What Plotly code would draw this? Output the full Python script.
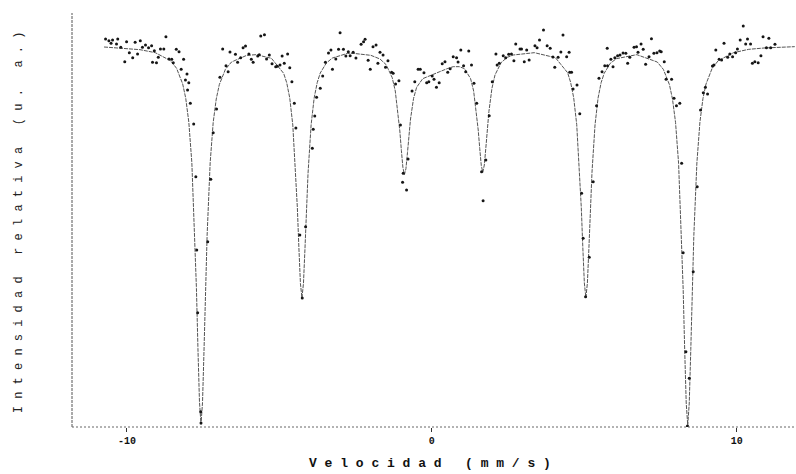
import plotly.graph_objects as go

# Measured spectrum: source velocity (mm/s) and relative intensity (%)
vel_obs = [
    -10.70, -10.59, -10.52, -10.47, -10.34, -10.30, -10.20, -10.07, -10.01, -9.92,
    -9.81, -9.73, -9.65, -9.56, -9.49, -9.39, -9.29, -9.19, -9.16, -9.10,
    -9.03, -8.97, -8.90, -8.79, -8.72, -8.62, -8.53, -8.48, -8.38, -8.29,
    -8.22, -8.14, -8.08, -8.03, -8.01, -7.97, -7.92, -7.81, -7.74, -7.71,
    -7.68, -7.58, -7.57, -7.35, -7.25, -7.17, -7.06, -6.95, -6.86, -6.75,
    -6.68, -6.62, -6.44, -6.37, -6.27, -6.19, -6.11, -6.00, -5.92, -5.86,
    -5.71, -5.66, -5.61, -5.49, -5.42, -5.33, -5.24, -5.12, -5.07, -4.98,
    -4.91, -4.84, -4.73, -4.66, -4.59, -4.51, -4.46, -4.33, -4.25, -4.14,
    -3.92, -3.89, -3.84, -3.78, -3.66, -3.58, -3.49, -3.39, -3.31, -3.26,
    -3.15, -3.06, -3.01, -2.90, -2.82, -2.74, -2.68, -2.58, -2.49, -2.32,
    -2.24, -2.19, -2.09, -2.02, -1.93, -1.83, -1.77, -1.70, -1.60, -1.52,
    -1.44, -1.32, -1.27, -1.19, -1.08, -1.03, -0.94, -0.96, -0.83, -0.78,
    -0.65, -0.56, -0.45, -0.38, -0.26, -0.17, -0.10, 0.01, 0.07, 0.15,
    0.24, 0.34, 0.43, 0.52, 0.60, 0.70, 0.81, 0.86, 0.95, 1.04,
    1.11, 1.21, 1.30, 1.38, 1.47, 1.63, 1.68, 1.77, 1.88, 1.98,
    2.10, 2.14, 2.21, 2.34, 2.42, 2.52, 2.61, 2.69, 2.75, 2.89,
    2.94, 3.03, 3.11, 3.19, 3.38, 3.45, 3.53, 3.66, 3.78, 3.88,
    3.97, 4.03, 4.14, 4.23, 4.30, 4.42, 4.50, 4.52, 4.58, 4.63,
    4.76, 4.85, 4.91, 4.96, 5.04, 5.16, 5.29, 5.40, 5.48, 5.58,
    5.67, 5.76, 5.75, 5.87, 5.94, 6.00, 6.09, 6.17, 6.27, 6.36,
    6.42, 6.49, 6.63, 6.71, 6.76, 6.86, 6.93, 7.01, 7.12, 7.20,
    7.28, 7.38, 7.47, 7.52, 7.62, 7.68, 7.75, 7.86, 7.94, 8.02,
    8.13, 8.19, 8.24, 8.33, 8.38, 8.44, 8.57, 8.70, 8.81, 8.90,
    8.97, 9.04, 9.20, 9.25, 9.31, 9.42, 9.50, 9.58, 9.70, 9.77,
    9.86, 9.96, 10.02, 10.11, 10.21, 10.29, 10.35, 10.45, 10.51, 10.59,
    10.70, 10.79, 10.86, 10.97, 11.05, 11.11, 11.25,
]
int_obs = [
    100.18, 100.13, 100.05, 100.15, 100.03, 100.18, 99.93, 99.50, 100.10, 99.77,
    99.62, 100.08, 99.73, 100.13, 99.93, 100.00, 99.92, 99.98, 99.48, 99.83,
    99.47, 99.63, 99.88, 99.88, 100.25, 99.58, 99.57, 99.47, 99.87, 99.80,
    99.27, 99.57, 98.95, 99.13, 98.65, 98.87, 98.25, 97.63, 96.05, 93.85,
    91.97, 89.00, 88.66, 94.10, 95.97, 97.37, 98.08, 99.03, 99.88, 99.38,
    99.20, 99.79, 99.72, 99.48, 99.62, 99.92, 99.97, 99.73, 99.57, 99.48,
    99.67, 99.71, 100.27, 100.31, 99.58, 99.70, 99.44, 99.35, 99.36, 99.40,
    99.67, 99.45, 99.73, 99.32, 98.90, 98.25, 97.51, 94.30, 92.41, 94.55,
    96.90, 97.47, 97.87, 98.43, 98.70, 99.07, 99.48, 99.76, 99.85, 99.27,
    99.58, 99.87, 100.37, 99.87, 99.67, 99.80, 99.68, 99.78, 99.61, 100.02,
    100.10, 100.17, 99.54, 99.27, 99.95, 100.00, 99.45, 99.78, 99.70, 99.33,
    99.53, 99.18, 99.15, 98.83, 98.93, 97.60, 96.15, 95.88, 95.65, 96.58,
    98.62, 98.90, 99.27, 99.27, 99.17, 98.87, 98.90, 99.07, 98.97, 98.73,
    98.87, 99.44, 99.50, 99.18, 99.29, 99.65, 99.62, 99.49, 99.85, 99.38,
    99.20, 99.82, 99.40, 98.85, 98.25, 96.20, 95.33, 96.55, 97.88, 98.90,
    99.73, 99.40, 99.45, 99.68, 99.62, 99.72, 99.73, 99.53, 100.03, 99.88,
    99.88, 99.50, 99.85, 99.55, 99.98, 99.92, 100.15, 100.45, 99.98, 99.90,
    99.64, 99.33, 99.63, 99.79, 100.30, 99.65, 99.78, 99.18, 99.18, 98.68,
    98.80, 97.94, 95.55, 94.20, 92.45, 93.63, 95.90, 98.18, 99.00, 99.20,
    99.38, 99.38, 99.90, 99.57, 99.35, 99.62, 99.68, 99.70, 99.76, 99.75,
    99.45, 99.63, 99.93, 99.95, 99.78, 100.03, 99.87, 99.42, 99.65, 100.19,
    99.75, 99.77, 99.82, 99.80, 99.50, 98.97, 99.20, 98.97, 98.40, 98.18,
    98.25, 96.45, 93.77, 90.80, 88.57, 90.00, 93.20, 95.75, 98.05, 98.57,
    98.73, 98.53, 99.37, 99.40, 99.85, 99.57, 99.55, 100.05, 99.63, 99.73,
    99.65, 99.77, 99.88, 100.15, 100.57, 100.03, 100.18, 100.03, 99.45, 99.50,
    99.47, 99.68, 100.25, 99.92, 100.20, 99.92, 100.02,
]

# Fitted sextet (six magnetic lines) sampled along the velocity scale
vel_fit = [
    -10.75, -10.57, -10.07, -9.57, -9.07, -8.57, -8.37, -8.17, -8.07, -7.97,
    -7.87, -7.77, -7.72, -7.67, -7.62, -7.57, -7.52, -7.47, -7.42, -7.37,
    -7.27, -7.17, -7.07, -6.97, -6.77, -6.57, -6.07, -5.92, -5.76, -5.26,
    -4.86, -4.76, -4.66, -4.56, -4.46, -4.41, -4.36, -4.31, -4.26, -4.21,
    -4.16, -4.11, -4.06, -3.96, -3.86, -3.76, -3.66, -3.46, -3.26, -2.76,
    -2.58, -2.00, -1.70, -1.50, -1.30, -1.20, -1.10, -1.05, -1.00, -0.95,
    -0.90, -0.85, -0.80, -0.75, -0.70, -0.60, -0.50, -0.30, -0.10, 0.10,
    0.30, 0.50, 0.70, 0.90, 1.07, 1.27, 1.37, 1.47, 1.52, 1.57,
    1.62, 1.67, 1.72, 1.77, 1.82, 1.87, 1.97, 2.07, 2.27, 2.47,
    2.67, 3.36, 4.05, 4.45, 4.55, 4.65, 4.75, 4.85, 4.90, 4.95,
    5.00, 5.05, 5.10, 5.15, 5.20, 5.25, 5.35, 5.45, 5.55, 5.65,
    5.85, 6.05, 6.72, 7.39, 7.59, 7.79, 7.89, 7.99, 8.09, 8.19,
    8.24, 8.29, 8.34, 8.39, 8.44, 8.49, 8.54, 8.59, 8.69, 8.79,
    8.89, 8.99, 9.19, 9.39, 9.89, 10.39, 10.89, 11.39, 11.90,
]
int_fit = [
    99.94, 99.93, 99.90, 99.86, 99.77, 99.53, 99.30, 98.83, 98.40, 97.69,
    96.47, 94.29, 92.70, 90.89, 89.29, 88.62, 89.28, 90.88, 92.69, 94.28,
    96.46, 97.68, 98.38, 98.81, 99.27, 99.49, 99.69, 99.71, 99.71, 99.60,
    99.15, 98.87, 98.41, 97.60, 96.16, 95.11, 93.91, 92.85, 92.41, 92.85,
    93.91, 95.11, 96.16, 97.60, 98.41, 98.87, 99.16, 99.46, 99.61, 99.75,
    99.75, 99.69, 99.58, 99.41, 99.02, 98.62, 97.92, 97.42, 96.84, 96.33,
    96.11, 96.29, 96.77, 97.31, 97.78, 98.40, 98.73, 98.99, 99.07, 99.13,
    99.21, 99.29, 99.35, 99.35, 99.29, 98.99, 98.62, 97.95, 97.45, 96.89,
    96.39, 96.18, 96.40, 96.91, 97.49, 98.00, 98.70, 99.10, 99.47, 99.63,
    99.70, 99.77, 99.62, 99.17, 98.88, 98.42, 97.61, 96.17, 95.12, 93.92,
    92.86, 92.42, 92.86, 93.92, 95.12, 96.17, 97.60, 98.41, 98.87, 99.15,
    99.45, 99.59, 99.71, 99.49, 99.27, 98.81, 98.38, 97.68, 96.45, 94.27,
    92.68, 90.86, 89.26, 88.59, 89.26, 90.86, 92.68, 94.28, 96.46, 97.69,
    98.40, 98.83, 99.30, 99.53, 99.77, 99.87, 99.91, 99.93, 99.95,
]

x_ticks = [-10, 0, 10]
x_tick_labels = ["-10", "0", "10"]

MONO = "Liberation Mono, DejaVu Sans Mono, monospace"


def spaced(text):
    """Typewriter-style letter spacing for the axis captions."""
    return " ".join(text)


fig = go.Figure()

fig.add_trace(go.Scatter(
    x=vel_fit, y=int_fit, mode="lines",
    line=dict(color="#555555", width=1, dash="4px,1px"),
    hoverinfo="skip", showlegend=False,
))

fig.add_trace(go.Scatter(
    x=vel_obs, y=int_obs, mode="markers",
    marker=dict(color="#151515", size=3, line=dict(width=0)),
    showlegend=False,
))

fig.update_layout(
    width=796, height=474,
    margin=dict(l=72, r=0, t=13, b=47),
    paper_bgcolor="white", plot_bgcolor="white",
    xaxis=dict(
        range=[-11.8, 11.94], tickvals=x_ticks, ticktext=x_tick_labels,
        ticks="outside", ticklen=4, tickwidth=1, tickcolor="#333",
        tickfont=dict(family=MONO, size=10, color="#111", weight="bold"),
        showgrid=False, zeroline=False, showline=False,
    ),
    yaxis=dict(
        range=[88.54, 100.96], showticklabels=False, ticks="",
        showgrid=False, zeroline=False, showline=False,
    ),
    shapes=[
        dict(type="line", xref="paper", yref="paper", x0=0, x1=0, y0=0, y1=1,
             line=dict(color="#555", width=1, dash="3px,1px")),
        dict(type="line", xref="paper", yref="paper", x0=0, x1=1, y0=0, y1=0,
             line=dict(color="#666", width=1, dash="2px,2px")),
    ],
    annotations=[
        dict(text=spaced("Velocidad (mm/s)"), xref="paper", yref="paper",
             x=0.495, y=-0.087, xanchor="center", yanchor="middle",
             showarrow=False,
             font=dict(family=MONO, size=13, color="#111", weight="bold")),
        dict(text=spaced("Intensidad relativa (u. a.)"), xref="paper", yref="paper",
             x=-0.073, y=0.495, xanchor="center", yanchor="middle", textangle=-90,
             showarrow=False, font=dict(family=MONO, size=12, color="#222")),
    ],
)

fig.write_html("out.html")
